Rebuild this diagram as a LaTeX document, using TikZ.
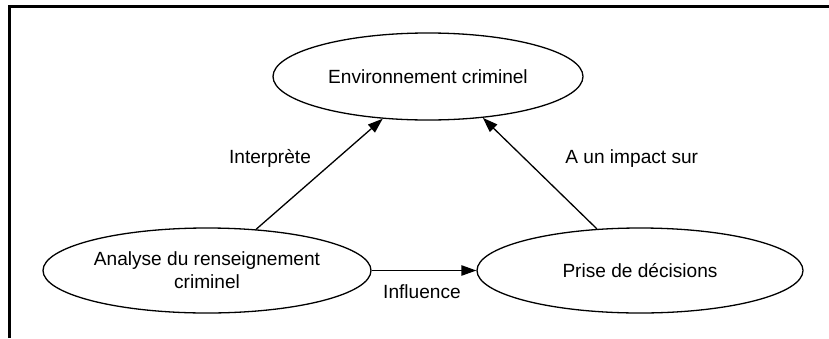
\documentclass[tikz,border=0pt]{standalone}
\usepackage{fontspec}
\setmainfont{Liberation Sans}
\usetikzlibrary{shapes.geometric,arrows.meta}
\begin{document}
\begin{tikzpicture}[x=0.5pt,y=-0.5pt,
  oval/.style={ellipse,draw,line width=0.65pt,inner sep=0pt,align=center,
    font=\fontsize{9.55pt}{11.5pt}\selectfont},
  label/.style={font=\fontsize{9.55pt}{11.5pt}\selectfont,inner sep=0pt,anchor=base},
  link/.style={line width=0.65pt,-{Triangle[length=7.5pt,width=5.2pt]}}]
  \useasboundingbox (0,0) rectangle (829,338);
  % open frame: top and left sides only
  \draw[line width=1.5pt] (9.5,338) |- (829,6.5);
  % the three ovals
  \node[oval,minimum width=155pt,minimum height=43.5pt] (env) at (428,76.5) {Environnement criminel};
  \node[oval,minimum width=164pt,minimum height=42.5pt] (ana) at (207,270.5) {Analyse du renseignement\\criminel};
  \node[oval,minimum width=163pt,minimum height=42.5pt] (dec) at (640,270.5) {Prise de décisions};
  % connectors
  \draw[link] (ana.40.3) -- (env.-137.2);
  \draw[link] (dec.136.4) -- (env.-37);
  \draw[link] (ana.east) -- (dec.west);
  % connector labels
  \node[label] (l1) at (270,163) {Interprète};
  \node[label,anchor=base west] (l2) at (565,163) {A un impact sur};
  \node[label] (l3) at (422,298) {Influence};
\end{tikzpicture}
\end{document}
